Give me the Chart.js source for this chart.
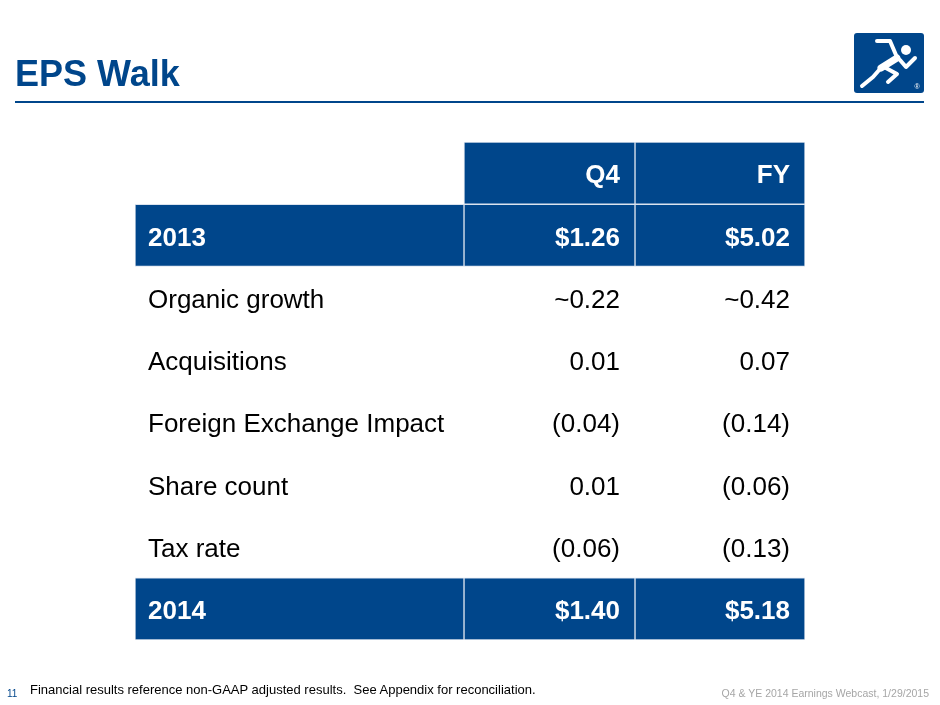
<!DOCTYPE html>
<html>
<head>
<meta charset="utf-8">
<title>EPS Walk</title>
<script src="https://cdn.jsdelivr.net/npm/chart.js@4"></script>
<style>
  body { margin: 0; background: #fff; font-family: "Liberation Sans", Arial, sans-serif; }
  #wrap { position: relative; width: 940px; height: 705px; overflow: hidden; }
  #chart { position: absolute; left: 0; top: 0; }
  .title { position: absolute; left: 15px; top: 56px; font-size: 36px; line-height: 1; font-weight: bold; color: #00468b; }
  .rule { position: absolute; left: 15px; top: 101px; width: 909px; height: 2px; background: #00468b; }
  .page { position: absolute; left: 7px; top: 689px; font-size: 10px; line-height: 1; color: #00468b; }
  .note { position: absolute; left: 30px; top: 683px; font-size: 13px; line-height: 1; color: #000; }
  .event { position: absolute; right: 11px; top: 688px; font-size: 10.5px; line-height: 1; color: #a6a6a6; }
</style>
</head>
<body>
<div id="wrap">
  <canvas id="chart" width="940" height="705"></canvas>
  <div class="title">EPS Walk</div>
  <div class="rule"></div>
  <div class="page">11</div>
  <div class="note">Financial results reference non-GAAP adjusted results.&nbsp; See Appendix for reconciliation.</div>
  <div class="event">Q4 &amp; YE 2014 Earnings Webcast, 1/29/2015</div>
</div>
<script>
// table rows, top to bottom
const rowLabels = ['', '2013', 'Organic growth', 'Acquisitions', 'Foreign Exchange Impact', 'Share count', 'Tax rate', '2014']
const rowKinds = ['header', 'total', 'item', 'item', 'item', 'item', 'item', 'total']
const columnHeaders = ['Q4', 'FY']
const q4Values = [null, 1.26, 0.22, 0.01, -0.04, 0.01, -0.06, 1.40]
const fyValues = [null, 5.02, 0.42, 0.07, -0.14, -0.06, -0.13, 5.18]
const approxRows = ['Organic growth']

// layout: column widths in px (label col, Q4, FY)
const colWidths = [329, 171, 170]
const colEdges = colWidths.reduce((acc, w) => { acc.push(acc[acc.length - 1] + w); return acc }, [0])

const BLUE = '#00468b'
const FONT = '"Liberation Sans", Arial, Helvetica, sans-serif'
const TEXT_DROP = 3

const fmt = (v, kind, label) => {
    const s = Math.abs(v).toFixed(2)
    if (kind === 'total') return '$' + s
    if (v < 0) return '(' + s + ')'
    return (approxRows.includes(label) ? '~' : '') + s
}

// blue cells as floating bars, one dataset per column
const cellData = (c) => rowKinds.map(k =>
    (k === 'total' || (k === 'header' && c > 0)) ? [colEdges[c], colEdges[c + 1]] : null
)

const cellText = {
    id: 'cellText',
    afterDatasetsDraw(chart) {
        const {ctx, scales: {x, y}} = chart
        const cols = [q4Values, fyValues]
        ctx.save()
        ctx.textAlign = 'right'
        ctx.textBaseline = 'middle'
        rowLabels.forEach((label, i) => {
            const kind = rowKinds[i]
            const py = y.getPixelForValue(i) + TEXT_DROP
            cols.forEach((vals, c) => {
                const px = x.getPixelForValue(colEdges[c + 2]) - 15
                const text = kind === 'header' ? columnHeaders[c] : fmt(vals[i], kind, label)
                ctx.fillStyle = kind === 'item' ? '#000' : '#fff'
                ctx.font = (kind === 'item' ? '' : 'bold ') + '26px ' + FONT
                ctx.fillText(text, px, py)
            })
        })
        ctx.restore()
    }
}

const logo = {
    id: 'logo',
    afterDraw(chart) {
        const ctx = chart.ctx
        ctx.save()
        ctx.fillStyle = BLUE
        ctx.beginPath()
        ctx.roundRect(854, 33, 70, 60, 3)
        ctx.fill()
        ctx.strokeStyle = '#fff'
        ctx.fillStyle = '#fff'
        ctx.lineCap = 'round'
        ctx.lineJoin = 'round'
        const path = (pts, w) => {
            ctx.lineWidth = w
            ctx.beginPath()
            pts.forEach(([a, b], k) => k ? ctx.lineTo(a, b) : ctx.moveTo(a, b))
            ctx.stroke()
        }
        path([[877, 41], [890, 41], [896, 55]], 4)
        path([[897, 58], [881, 68]], 7)
        path([[880, 69], [873, 77], [862, 86]], 4)
        path([[884, 67], [897, 74], [888, 82]], 4)
        path([[900, 60], [906, 67], [915, 58]], 4)
        ctx.beginPath()
        ctx.arc(906, 50, 5, 0, Math.PI * 2)
        ctx.fill()
        ctx.font = '7px ' + FONT
        ctx.textAlign = 'center'
        ctx.textBaseline = 'middle'
        ctx.fillText('®', 917, 87)
        ctx.restore()
    }
}

const ctx = document.getElementById('chart').getContext('2d')
const myChart = new Chart(ctx, {
    type: 'bar',
    data: {
        labels: rowLabels,
        datasets: colWidths.map((w, c) => ({
            data: cellData(c),
            backgroundColor: BLUE,
            borderColor: '#dbe3ee',
            borderWidth: 1,
            borderSkipped: false,
            grouped: false,
            barPercentage: 1,
            categoryPercentage: 1
        }))
    },
    options: {
        indexAxis: 'y',
        responsive: false,
        animation: false,
        // the mirrored y axis keeps 2 x padding (26px) to the left of the table
        layout: { padding: { left: 109, right: 135, top: 142, bottom: 65 } },
        plugins: { legend: { display: false }, tooltip: { enabled: false } },
        scales: {
            x: { type: 'linear', min: 0, max: colEdges[colEdges.length - 1], display: false },
            y: {
                grid: { display: false, drawTicks: false },
                border: { display: false },
                ticks: {
                    mirror: true,
                    padding: 13,
                    labelOffset: TEXT_DROP,
                    z: 1,
                    autoSkip: false,
                    color: (c) => rowKinds[c.index] === 'item' ? '#000' : '#fff',
                    font: (c) => ({ family: FONT, size: 26, weight: rowKinds[c.index] === 'item' ? 'normal' : 'bold' })
                }
            }
        }
    },
    plugins: [cellText, logo]
})
</script>
</body>
</html>
